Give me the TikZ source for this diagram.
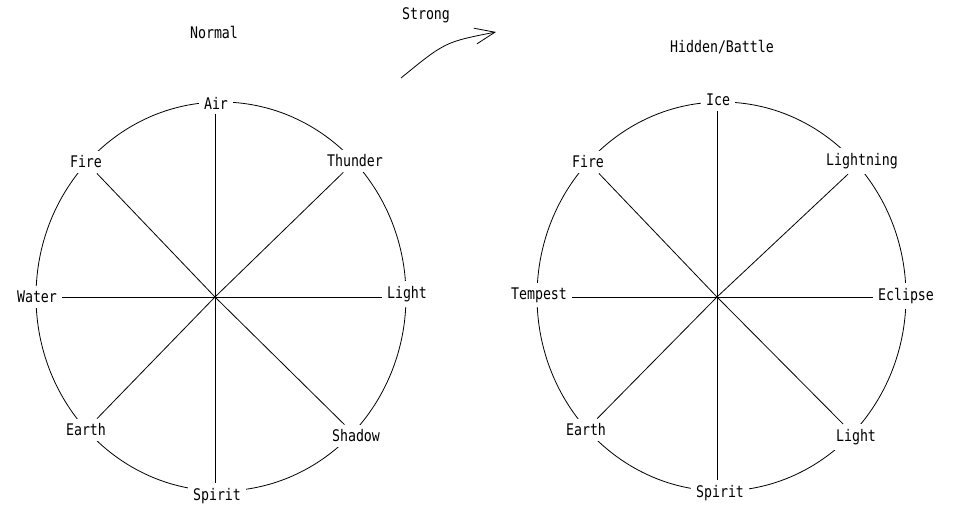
\documentclass[tikz,border=0pt]{standalone}
\usepackage{fontspec}
\setmonofont[FakeStretch=0.83]{DejaVu Sans Mono}
\usetikzlibrary{arrows.meta}
\begin{document}
\begin{tikzpicture}[x=1pt,y=-1pt,
  txt/.style={font=\ttfamily\fontsize{16}{16}\selectfont},
  lbl/.style={txt, fill=white, inner xsep=5pt, inner ysep=5pt},
  ttl/.style={txt, inner sep=0pt},
  spoke/.style={line width=0.8pt},
  ring/.style={line width=0.8pt}]
\useasboundingbox[fill=white] (0,0) rectangle (956,516);
% titles
\node[ttl] (tnormal) at (214,32) {Normal};
\node[ttl] (tstrong) at (426,15) {Strong};
\node[ttl] (thidden) at (722,47) {Hidden/Battle};
% arrow
\coordinate (s1) at (401,78);
\coordinate (s2) at (496,32);
\draw[line width=0.8pt,-{Straight Barb[length=20pt,width=16pt,line width=0.8pt]}] (s1) .. controls (445,42) .. (s2);
% left wheel
\draw[ring] (221,296.5) ellipse [x radius=185pt, y radius=194.5pt];
\coordinate (lc) at (215,297);
\node[lbl] (lair) at (216,103) {Air};
\node[lbl] (lfire) at (86,162) {Fire};
\node[lbl] (lthunder) at (355,161) {Thunder};
\node[lbl] (lwater) at (37,297) {Water};
\node[lbl] (llight) at (407,294) {Light};
\node[lbl] (learth) at (86,430) {Earth};
\node[lbl] (lshadow) at (356,436) {Shadow};
\node[lbl] (lspirit) at (217,496) {Spirit};
\foreach \n in {lfire,lthunder,learth,lshadow}
  \draw[spoke] (lc) -- (\n);
\draw[spoke] (lc) -- (lc |- lair.south);
\draw[spoke] (lc) -- (lc |- lspirit.north);
\draw[spoke] (lc) -- (lc -| lwater.east);
\draw[spoke] (lc) -- (lc -| llight.west);
% right wheel
\draw[ring] (721.5,296.5) ellipse [x radius=184.5pt, y radius=194.5pt];
\coordinate (rc) at (717,297);
\node[lbl] (rice) at (718,100) {Ice};
\node[lbl] (rfire) at (588,162) {Fire};
\node[lbl] (rlightning) at (862,161) {Lightning};
\node[lbl] (rtempest) at (539,295) {Tempest};
\node[lbl] (reclipse) at (906,296) {Eclipse};
\node[lbl] (rearth) at (586,430) {Earth};
\node[lbl] (rlight) at (856,437) {Light};
\node[lbl] (rspirit) at (720,493) {Spirit};
\foreach \n in {rfire,rlightning,rearth,rlight}
  \draw[spoke] (rc) -- (\n);
\draw[spoke] (rc) -- (rc |- rice.south);
\draw[spoke] (rc) -- (rc |- rspirit.north);
\draw[spoke] (rc) -- (rc -| rtempest.east);
\draw[spoke] (rc) -- (rc -| reclipse.west);
\end{tikzpicture}
\end{document}
